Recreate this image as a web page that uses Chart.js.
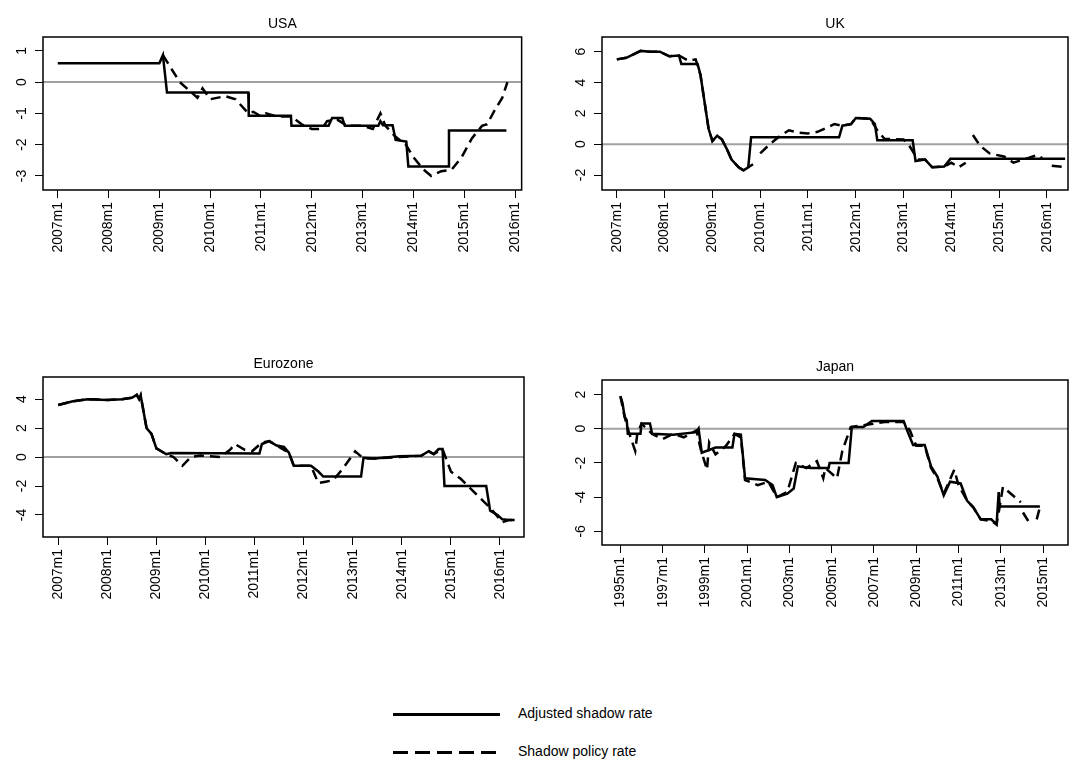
<!DOCTYPE html>
<html><head><meta charset="utf-8">
<script src="https://cdn.jsdelivr.net/npm/chart.js@4"></script>
<style>
body{margin:0;background:#fff;font-family:"Liberation Sans",Arial,sans-serif}
canvas{position:absolute}
.leg{position:absolute;left:393px;width:107px;height:3px;background:#000}
.legd{background:repeating-linear-gradient(90deg,#000 0 15px,transparent 15px 22px)}
.lt{position:absolute;left:518px;font-size:14px;color:#000}
</style></head><body>
<canvas id="usa" style="left:0;top:0" width="536" height="300"></canvas>
<canvas id="uk" style="left:536px;top:0" width="536" height="300"></canvas>
<canvas id="eur" style="left:0;top:350px" width="536" height="300"></canvas>
<canvas id="jpn" style="left:536px;top:350px" width="536" height="300"></canvas>
<div class="leg" style="top:713px"></div><div class="lt" style="top:705px">Adjusted shadow rate</div>
<div class="leg legd" style="top:751px"></div><div class="lt" style="top:743px">Shadow policy rate</div>
<script>
// USA
const usaAdjT = [2007.0,2009.0,2009.07,2009.15,2010.75,2010.76,2011.59,2011.6,2012.33,2012.4,2012.6,2012.65,2013.31,2013.35,2013.4,2013.59,2013.65,2013.86,2013.9,2014.69,2014.7,2015.83];
const usaAdjV = [0.6,0.6,0.86,-0.33,-0.33,-1.08,-1.08,-1.4,-1.4,-1.15,-1.15,-1.4,-1.4,-1.25,-1.38,-1.38,-1.85,-1.9,-2.7,-2.7,-1.55,-1.55];
const usaShT = [2009.07,2009.4,2009.75,2009.85,2010.0,2010.3,2010.5,2010.75,2010.85,2011.0,2011.1,2011.3,2011.6,2011.8,2012.0,2012.2,2012.3,2012.5,2012.7,2013.0,2013.2,2013.35,2013.45,2013.65,2013.85,2014.0,2014.2,2014.35,2014.55,2014.75,2014.95,2015.15,2015.35,2015.45,2015.6,2015.75,2015.85];
const usaShV = [0.86,0,-0.5,-0.2,-0.55,-0.45,-0.55,-1.0,-0.95,-1.1,-1.0,-1.1,-1.1,-1.35,-1.5,-1.5,-1.25,-1.2,-1.4,-1.4,-1.5,-1.0,-1.4,-1.75,-2.0,-2.4,-2.8,-3.0,-2.85,-2.8,-2.4,-1.8,-1.4,-1.35,-0.9,-0.5,0];
// UK
const ukAdjT = [2007.0,2007.2,2007.4,2007.5,2007.7,2007.9,2008.1,2008.3,2008.35,2008.69,2008.75,2008.92,2009.0,2009.1,2009.2,2009.3,2009.4,2009.55,2009.65,2009.75,2009.81,2011.65,2011.72,2011.9,2012.0,2012.3,2012.4,2012.45,2013.19,2013.25,2013.45,2013.6,2013.85,2013.98,2016.38];
const ukAdjV = [5.5,5.6,5.9,6.05,6.0,6.0,5.7,5.75,5.2,5.2,4.5,1.0,0.2,0.55,0.3,-0.3,-1.0,-1.5,-1.7,-1.5,0.45,0.45,1.2,1.3,1.7,1.65,1.3,0.25,0.25,-1.1,-1.0,-1.5,-1.45,-0.95,-0.95];
const ukShT = [2007.0,2007.2,2007.4,2007.5,2007.7,2007.9,2008.1,2008.3,2008.5,2008.65,2008.75,2008.92,2009.0,2009.1,2009.2,2009.3,2009.4,2009.55,2009.65,2009.85,2009.9,2010.0,2010.2,2010.4,2010.6,2010.8,2011.0,2011.2,2011.55,2011.7,2011.9,2012.0,2012.3,2012.45,2012.6,2013.0,2013.1,2013.3,2013.45,2013.6,2013.85,2014.0,2014.15,2014.3,2014.35,2014.45,2014.6,2014.8,2015.1,2015.3,2015.6,2015.8,2015.9,2016.0,2016.1,2016.4];
const ukShV = [5.5,5.6,5.9,6.05,6.0,6.0,5.7,5.75,5.4,5.5,4.5,1.0,0.2,0.55,0.3,-0.3,-1.0,-1.5,-1.7,-1.3,null,-0.6,0,0.5,0.9,0.75,0.7,0.8,1.3,1.2,1.3,1.7,1.65,0.9,0.35,0.3,0,-1.0,-1.0,-1.5,-1.45,-1.2,-1.5,-1.2,null,0.6,-0.1,-0.6,-0.8,-1.2,-0.9,-0.7,-0.9,null,-1.4,-1.5];
// Eurozone
const eurAdjT = [2007.0,2007.3,2007.6,2008.0,2008.3,2008.5,2008.6,2008.65,2008.68,2008.8,2008.9,2009.0,2009.1,2009.2,2009.3,2011.1,2011.15,2011.3,2011.45,2011.6,2011.7,2011.8,2012.15,2012.3,2012.4,2013.17,2013.22,2013.45,2013.95,2014.4,2014.55,2014.65,2014.75,2014.83,2014.87,2015.72,2015.8,2015.95,2016.05,2016.18,2016.3];
const eurAdjV = [3.6,3.85,4.0,3.95,4.0,4.1,4.3,4.0,4.25,2.0,1.6,0.6,0.4,0.2,0.28,0.25,0.9,1.1,0.8,0.7,0.3,-0.6,-0.6,-1.0,-1.35,-1.35,-0.05,-0.1,0.05,0.1,0.4,0.2,0.55,0.55,-2.0,-2.0,-3.7,-4.0,-4.3,-4.35,-4.35];
const eurShT = [2007.0,2007.3,2007.6,2008.0,2008.3,2008.5,2008.6,2008.65,2008.68,2008.8,2008.9,2009.0,2009.1,2009.2,2009.35,2009.53,2009.7,2009.9,2010.3,2010.5,2010.6,2010.8,2010.95,2011.15,2011.3,2011.45,2011.6,2011.7,2011.8,2012.15,2012.3,2012.45,2012.6,2012.8,2013.05,2013.22,2013.45,2013.95,2014.4,2014.55,2014.65,2014.83,2015.0,2015.2,2015.5,2015.8,2016.05,2016.18,2016.3];
const eurShV = [3.6,3.85,4.0,3.95,4.0,4.1,4.3,4.0,4.25,2.0,1.6,0.6,0.4,0.2,0.0,-0.6,0.0,0.1,0.0,0.5,0.9,0.5,0.4,1.0,1.1,0.8,0.5,0.3,-0.6,-0.6,-1.8,-1.7,-1.6,-0.8,0.4,-0.1,-0.1,0.0,0.1,0.4,0.2,0.55,-1.0,-1.5,-2.5,-3.5,-4.5,-4.35,-4.35];
// Japan
const jpnAdjT = [1995.0,1995.1,1995.2,1995.3,1995.35,1995.95,1996.0,1996.4,1996.5,1997.5,1998.6,1998.7,1998.85,1999.5,2000.3,2000.4,2000.7,2000.9,2001.85,2002.2,2002.4,2002.9,2003.2,2003.4,2004.0,2004.85,2004.9,2005.8,2005.95,2006.5,2006.9,2008.4,2008.6,2008.85,2009.4,2009.7,2010.0,2010.3,2010.6,2011.1,2011.4,2011.7,2012.05,2012.55,2012.8,2012.9,2012.95,2014.85];
const jpnAdjV = [1.9,1.5,0.7,0.5,-0.3,-0.3,0.3,0.3,-0.3,-0.35,-0.2,0.0,-1.4,-1.1,-1.1,-0.3,-0.35,-2.9,-3.0,-3.3,-4.0,-3.8,-3.5,-2.2,-2.3,-2.3,-2.0,-2.0,0.1,0.1,0.45,0.45,-0.2,-0.95,-0.95,-2.2,-2.8,-3.9,-3.1,-3.2,-4.2,-4.6,-5.3,-5.3,-5.6,-3.7,-4.55,-4.55];
const jpnShT = [1995.0,1995.2,1995.4,1995.7,1995.8,1996.0,1996.5,1997.0,1997.5,1998.0,1998.6,1998.8,1999.1,1999.2,1999.5,2000.0,2000.4,2000.7,2000.9,2001.5,2002.0,2002.4,2002.9,2003.3,2003.8,2004.3,2004.6,2004.7,2005.25,2005.5,2005.9,2006.5,2007.5,2008.4,2008.7,2009.0,2009.4,2009.7,2010.0,2010.3,2010.8,2011.0,2011.4,2011.7,2012.05,2012.55,2012.8,2012.95,2013.1,2013.95,2014.0,2014.05,2014.45,2014.55,2014.7,2014.85];
const jpnShV = [1.9,0.7,-0.2,-1.3,-0.3,0.3,-0.3,-0.6,-0.3,-0.5,-0.1,-1.2,-2.4,-0.8,-1.5,-1.0,-0.3,-0.5,-3.0,-3.3,-3.1,-4.0,-3.7,-2.0,-2.3,-1.9,-2.9,-2.3,-2.9,-1.3,0.1,0.2,0.4,0.4,-0.1,-1.0,-1.0,-2.3,-2.9,-3.8,-2.4,-3.3,-4.2,-4.6,-5.3,-5.4,-5.6,-4.55,-3.4,-4.3,null,-4.9,-5.7,null,-5.3,-4.6];

const usaYTicks = [1,0,-1,-2,-3];
const ukYTicks = [6,4,2,0,-2];
const eurYTicks = [4,2,0,-2,-4];
const jpnYTicks = [2,0,-2,-4,-6];
const usaYears = [2007,2008,2009,2010,2011,2012,2013,2014,2015,2016];
const jpnYears = [1995,1997,1999,2001,2003,2005,2007,2009,2011,2013,2015];

const FONT = '"Liberation Sans", Arial, sans-serif';

function pts(t, v) { return t.map((x, i) => ({x: x, y: v[i]})); }

function panel(id, title, adjT, adjV, shT, shV, years, yTicks, xr, yr, box) {
  // box: [left, top, rightPad, xAxisHeight] in canvas pixels
  new Chart(document.getElementById(id), {
    type: 'line',
    data: {datasets: [
      {data: pts(shT, shV), borderColor: '#000', borderWidth: 2.5, borderDash: [10, 6], pointRadius: 0, tension: 0, spanGaps: false},
      {data: pts(adjT, adjV), borderColor: '#000', borderWidth: 2.5, pointRadius: 0, tension: 0},
      {data: [{x: xr[0], y: 0}, {x: xr[1], y: 0}], borderColor: '#a0a0a0', borderWidth: 2, pointRadius: 0, order: 5}
    ]},
    options: {
      responsive: false, animation: false,
      layout: {padding: {left: 0, top: box[1], right: box[2], bottom: 0}},
      plugins: {legend: {display: false}, tooltip: {enabled: false}},
      scales: {
        x: {type: 'linear', min: xr[0], max: xr[1],
          afterBuildTicks: s => { s.ticks = years.map(y => ({value: y})); },
          afterFit: s => { s.height = box[3]; },
          grid: {drawOnChartArea: false, tickLength: 8, color: '#000', lineWidth: 1},
          border: {display: false},
          ticks: {minRotation: 90, maxRotation: 90, padding: 4, color: '#000', font: {family: FONT, size: 14},
            callback: v => v + 'm1'}},
        y: {min: yr[0], max: yr[1],
          afterBuildTicks: s => { s.ticks = yTicks.map(v => ({value: v})); },
          afterFit: s => { s.width = box[0]; },
          grid: {drawOnChartArea: false, tickLength: 8, color: '#000', lineWidth: 1},
          border: {display: false},
          ticks: {callback: () => ''}}
      }
    },
    plugins: [{
      id: 'frame',
      afterDraw(c) {
        const a = c.chartArea, ctx = c.ctx, ys = c.scales.y;
        ctx.save();
        ctx.strokeStyle = '#000'; ctx.lineWidth = 1.5;
        ctx.strokeRect(a.left, a.top, a.right - a.left, a.bottom - a.top);
        ctx.fillStyle = '#000';
        ctx.font = '14px ' + FONT;
        ctx.textAlign = 'center'; ctx.textBaseline = 'middle';
        ctx.fillText(title, (a.left + a.right) / 2, a.top - 13);
        yTicks.forEach(v => {
          ctx.save();
          ctx.translate(a.left - 21, ys.getPixelForValue(v));
          ctx.rotate(-Math.PI / 2);
          ctx.fillText(String(v), 0, 0);
          ctx.restore();
        });
        ctx.restore();
      }
    }]
  });
}

panel('usa', 'USA', usaAdjT, usaAdjV, usaShT, usaShV, usaYears, usaYTicks, [2006.71, 2016.13], [-3.45, 1.44], [43, 37, 12, 110]);
panel('uk', 'UK', ukAdjT, ukAdjV, ukShT, ukShV, usaYears, ukYTicks, [2006.69, 2016.44], [-2.97, 6.95], [66, 37, 4, 110]);
panel('eur', 'Eurozone', eurAdjT, eurAdjV, eurShT, eurShV, usaYears, eurYTicks, [2006.69, 2016.49], [-5.52, 5.53], [43, 27, 12, 113]);
panel('jpn', 'Japan', jpnAdjT, jpnAdjV, jpnShT, jpnShV, jpnYears, jpnYTicks, [1994.13, 2016.18], [-6.8, 2.85], [66, 30, 4, 105]);
</script>
</body></html>
